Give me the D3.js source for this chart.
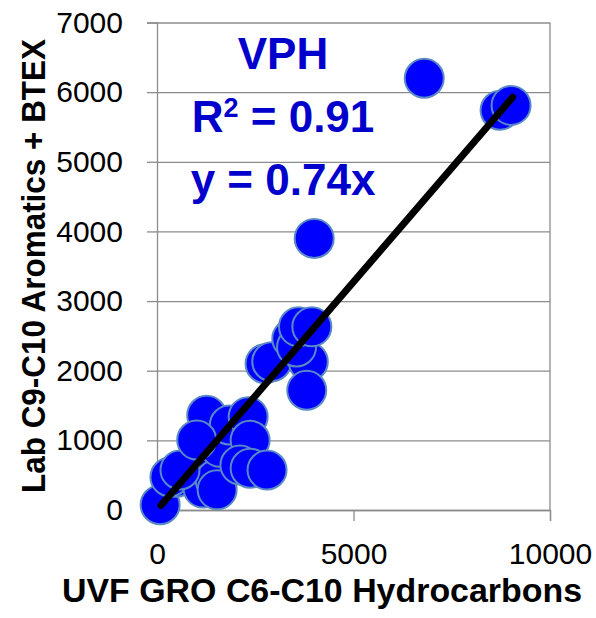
<!DOCTYPE html>
<html><head><meta charset="utf-8">
<script src="https://cdn.jsdelivr.net/npm/d3@7"></script>
<style>body{margin:0;background:#fff}svg{display:block}</style>
</head><body>
<svg id="chart" width="596" height="618"></svg>
<script>
// ---- data ----
const xValues = [80, 500, 330, 970, 1170, 1480, 1530, 585, 1220, 1300, 1600, 1264, 1840, 2320, 2370, 2110, 2370, 2800, 1010, 2750, 2920, 3850, 3810, 3430, 3550, 3600, 3940, 4000, 6800, 8730, 9010];
const yValues = [75, 470, 474, 530, 315, 430, 290, 574, 1000, 1050, 900, 1360, 1220, 1340, 1000, 646, 600, 574, 1004, 2100, 2130, 2130, 1720, 2460, 2340, 2630, 2630, 3900, 6200, 5740, 5810];
const xTicks = [0, 5000, 10000];
const yTicks = [0, 1000, 2000, 3000, 4000, 5000, 6000, 7000];
const trendX = [100, 9050];
const trendSlope = 0.655;
const xTitle = "UVF GRO C6-C10 Hydrocarbons";
const yTitle = "Lab C9-C10 Aromatics + BTEX";
const labelName = "VPH";
const labelR2 = "0.91";
const labelEq = "y = 0.74x";

// ---- drawing ----
const svg = d3.select("#chart");
const x = d3.scaleLinear().domain([0, 10000]).range([157, 550]);
const y = d3.scaleLinear().domain([0, 7000]).range([510, 22.5]);
const FONT = "'Liberation Sans', Arial, sans-serif";
const GRID = "#8c8c8c";

// gridlines
svg.append("g")
  .attr("transform", `translate(${x(0)},0)`)
  .call(d3.axisLeft(y).tickValues(yTicks).tickSize(-(x(10000) - x(0))).tickFormat(""))
  .call(g => g.select(".domain").remove())
  .call(g => g.selectAll("line").attr("stroke", GRID).attr("stroke-width", 1.3));

// right border
svg.append("line").attr("x1", x(10000)).attr("x2", x(10000)).attr("y1", y(7000)).attr("y2", y(0))
  .attr("stroke", GRID).attr("stroke-width", 1.3);

// y axis
const yAxis = svg.append("g")
  .attr("transform", `translate(${x(0)},0)`)
  .call(d3.axisLeft(y).tickValues(yTicks).tickSize(10).tickPadding(24).tickFormat(d3.format("d")));
yAxis.select(".domain").attr("stroke", GRID).attr("stroke-width", 1.3);
yAxis.selectAll("line").attr("stroke", GRID).attr("stroke-width", 1.3);
yAxis.selectAll("text").attr("font-family", FONT).attr("font-size", 30).attr("fill", "#000");

// x axis
const xAxis = svg.append("g")
  .attr("transform", `translate(0,${y(0)})`)
  .call(d3.axisBottom(x).tickValues(xTicks).tickSize(11).tickPadding(22).tickFormat(d3.format("d")));
xAxis.select(".domain").attr("stroke", GRID).attr("stroke-width", 1.3);
xAxis.selectAll("line").attr("stroke", GRID).attr("stroke-width", 1.3);
xAxis.selectAll("text").attr("font-family", FONT).attr("font-size", 30).attr("fill", "#000");

// points
const pts = xValues.map((v, i) => ({x: v, y: yValues[i]}));
svg.append("g").selectAll("circle").data(pts).join("circle")
  .attr("cx", d => x(d.x)).attr("cy", d => y(d.y)).attr("r", 19.5)
  .attr("fill", "#0000ff").attr("stroke", "#5a8ac6").attr("stroke-width", 2);

// trend line
svg.append("line")
  .attr("x1", x(trendX[0])).attr("y1", y(trendX[0] * trendSlope))
  .attr("x2", x(trendX[1])).attr("y2", y(trendX[1] * trendSlope))
  .attr("stroke", "#000").attr("stroke-width", 7).attr("stroke-linecap", "round");

// annotation
const ann = svg.append("g").attr("font-family", FONT).attr("font-weight", "bold")
  .attr("fill", "#0000cc").attr("text-anchor", "middle").attr("font-size", 44);
ann.append("text").attr("x", 283).attr("y", 69).text(labelName);
const r2 = ann.append("text").attr("x", 283).attr("y", 132);
r2.append("tspan").text("R");
r2.append("tspan").attr("font-size", 27).attr("dy", -15).text("2");
r2.append("tspan").attr("dy", 15).text(" = " + labelR2);
ann.append("text").attr("x", 283).attr("y", 195).text(labelEq);

// axis titles
svg.append("text").attr("x", 322).attr("y", 602).attr("text-anchor", "middle")
  .attr("font-family", FONT).attr("font-weight", "bold").attr("font-size", 34)
  .attr("textLength", 520).attr("lengthAdjust", "spacingAndGlyphs").text(xTitle);
svg.append("text").attr("transform", "translate(45,266) rotate(-90)").attr("text-anchor", "middle")
  .attr("font-family", FONT).attr("font-weight", "bold").attr("font-size", 33)
  .attr("textLength", 454).attr("lengthAdjust", "spacingAndGlyphs").text(yTitle);
</script>
</body></html>
